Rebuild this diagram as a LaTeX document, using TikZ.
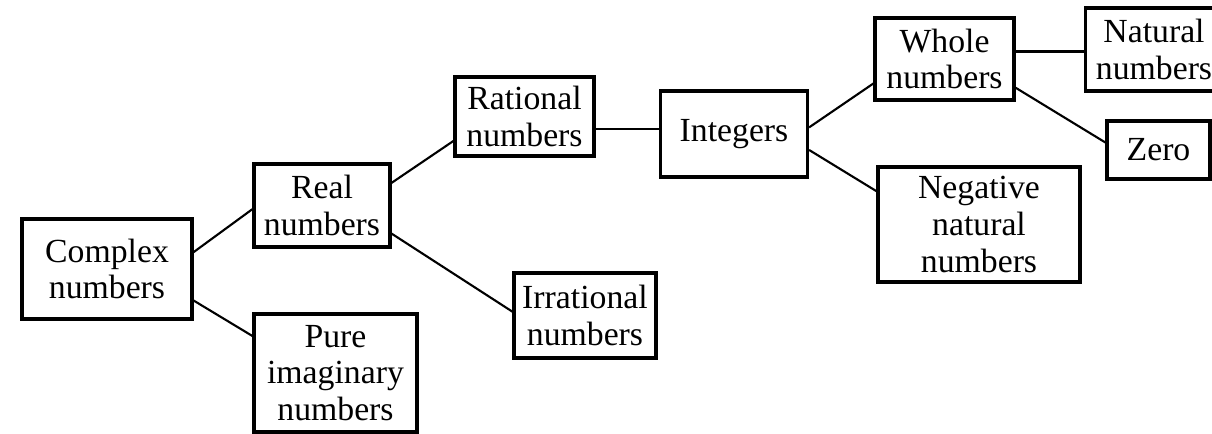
\documentclass[tikz,border=0pt]{standalone}
\usepackage{fontspec}
\setmainfont{Liberation Serif}

\begin{document}
\begin{tikzpicture}[numbox/.style={draw, line width=0.9pt, align=center, inner sep=1pt,
                     font=\fontsize{9.6}{10.4}\selectfont},
                    link/.style={line width=0.6pt}]
  \useasboundingbox (0,0) rectangle (12.12,-4.34);
  \node[numbox, minimum width=1.70cm, minimum height=1.00cm] (complex) at (1.07,-2.69) {Complex\\numbers};
  \node[numbox, minimum width=1.36cm, minimum height=0.83cm] (real) at (3.22,-2.055) {Real\\numbers};
  \node[numbox, minimum width=1.63cm, minimum height=1.18cm] (pure) at (3.355,-3.73) {Pure\\imaginary\\numbers};
  \node[numbox, minimum width=1.39cm, minimum height=0.79cm] (rational) at (5.245,-1.165) {Rational\\numbers};
  \node[numbox, minimum width=1.42cm, minimum height=0.85cm] (irrational) at (5.85,-3.155) {Irrational\\numbers};
  \node[numbox, minimum width=1.47cm, minimum height=0.86cm] (integers) at (7.34,-1.34) {Integers};
  \node[numbox, minimum width=1.39cm, minimum height=0.82cm] (whole) at (9.445,-0.59) {Whole\\numbers};
  \node[numbox, minimum width=1.37cm, minimum height=0.83cm] (natural) at (11.54,-0.495) {Natural\\numbers};
  \node[numbox, minimum width=1.03cm, minimum height=0.58cm] (zero) at (11.585,-1.50) {Zero};
  \node[numbox, minimum width=2.02cm, minimum height=1.15cm] (negative) at (9.79,-2.245) {Negative\\natural\\numbers};

  \draw[link] (complex.11) -- (real.183);
  \draw[link] (complex.-20) -- (pure.156);
  \draw[link] (real.18) -- (rational.199);
  \draw[link] (real.-22) -- (irrational.177);
  \draw[link] (rational.-10) -- (rational.-10 -| integers.west);
  \draw[link] (integers.5) -- (whole.199);
  \draw[link] (integers.-12) -- (negative.162);
  \draw[link] (whole.6) -- (whole.6 -| natural.west);
  \draw[link] (whole.-22) -- (zero.172);
\end{tikzpicture}
\end{document}
